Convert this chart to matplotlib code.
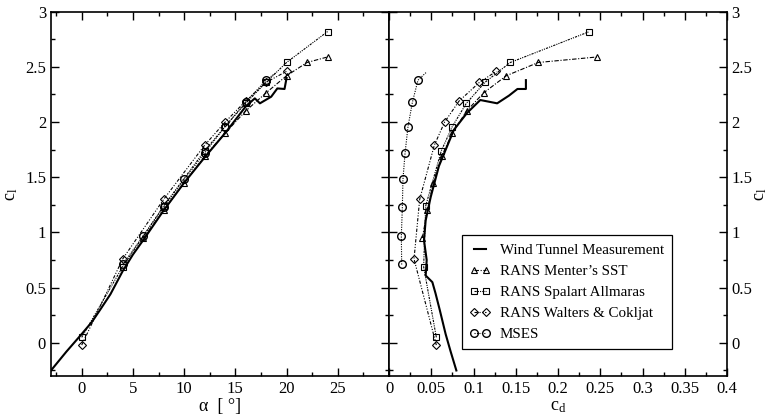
import matplotlib
matplotlib.use('Agg')

import numpy as np
import matplotlib.pyplot as plt
from matplotlib.ticker import MultipleLocator, FormatStrFormatter, FuncFormatter

plt.rcParams['font.family'] = ['Liberation Serif', 'DejaVu Serif']
plt.rcParams['mathtext.default'] = 'regular'
plt.rcParams['font.size'] = 12

# wind tunnel, lift curve
alpha_wt = [-3, -1.5, 0, 1.0, 1.8, 2.8, 4, 5, 6, 8, 10, 12, 14, 16, 16.9, 17.4, 18.5, 19.1, 19.8, 20.0]
cl_wt = [-0.25, -0.08, 0.08, 0.19, 0.30, 0.44, 0.65, 0.80, 0.93, 1.20, 1.45, 1.68, 1.90, 2.14, 2.215, 2.17, 2.23, 2.305, 2.30, 2.40]

# wind tunnel, drag polar
cd_wt_polar = [0.0797, 0.073, 0.067, 0.060, 0.055, 0.0513, 0.0434, 0.0446, 0.0414, 0.0434, 0.0493, 0.059, 0.0768, 0.092, 0.108, 0.128, 0.142, 0.152, 0.162, 0.162]
cl_wt_polar = [-0.25, -0.08, 0.08, 0.30, 0.45, 0.55, 0.61, 0.75, 0.93, 1.11, 1.32, 1.60, 1.93, 2.08, 2.20, 2.17, 2.24, 2.30, 2.30, 2.38]

# RANS Menter's SST
alpha_sst = [6, 8, 10, 12, 14, 16, 18, 20, 22, 24]
cl_sst = [0.95, 1.20, 1.45, 1.69, 1.90, 2.10, 2.265, 2.42, 2.54, 2.59]
cd_sst = [0.0394, 0.0454, 0.0524, 0.0623, 0.0749, 0.0918, 0.112, 0.1388, 0.1766, 0.2463]

# RANS Spalart Allmaras
alpha_sa = [0, 4, 8, 12, 14, 16, 18, 20, 24]
cl_sa = [0.05, 0.69, 1.24, 1.74, 1.96, 2.17, 2.36, 2.54, 2.82]
cd_sa = [0.056, 0.0410, 0.0434, 0.0619, 0.0749, 0.0915, 0.1135, 0.1435, 0.2372]

# RANS Walters & Cokljat
alpha_wc = [0, 4, 8, 12, 14, 16, 18, 20]
cl_wc = [-0.02, 0.76, 1.30, 1.79, 2.00, 2.19, 2.36, 2.46]
cd_wc = [0.056, 0.0296, 0.0363, 0.0536, 0.0658, 0.0828, 0.107, 0.127]

# MSES (last point is the unconverged tail, no marker)
alpha_mses = [4, 6, 8, 10, 12, 14, 16, 18, 19]
cl_mses = [0.71, 0.97, 1.23, 1.48, 1.72, 1.96, 2.18, 2.38, 2.45]
cd_mses = [0.015, 0.0146, 0.0158, 0.0165, 0.019, 0.0225, 0.0277, 0.0343, 0.044]

labels = ['Wind Tunnel Measurement', "RANS Menter\u2019s SST", 'RANS Spalart Allmaras',
          'RANS Walters & Cokljat', 'MSES']

mk = dict(color='k', mfc='none', mec='k', lw=0.8)
st_sst = dict(marker='^', ms=5, mew=0.8, dashes=(4, 1.5, 1, 1.5), **mk)
st_sa = dict(marker='s', ms=4.5, mew=0.8, dashes=(2, 1, 1, 1, 1, 1), **mk)
st_wc = dict(marker='D', ms=3.8, mew=0.8, dashes=(3, 1.5, 1, 1.5, 1, 1.5), **mk)
st_ms = dict(marker='o', ms=5.5, mew=1.0, dashes=(1, 1.2), markevery=list(range(8)), **mk)

fig = plt.figure(figsize=(7.7, 4.18), dpi=100)
ax1 = fig.add_axes([0.0662, 0.1005, 0.439, 0.8715])
ax2 = fig.add_axes([0.5052, 0.1005, 0.439, 0.8715])

ax1.plot(alpha_wt, cl_wt, color='k', lw=1.5)
ax1.plot(alpha_sst, cl_sst, **st_sst)
ax1.plot(alpha_sa, cl_sa, **st_sa)
ax1.plot(alpha_wc, cl_wc, **st_wc)
ax1.plot(alpha_mses, cl_mses, **st_ms)

h0, = ax2.plot(cd_wt_polar, cl_wt_polar, color='k', lw=1.5)
h1, = ax2.plot(cd_sst, cl_sst, **st_sst)
h2, = ax2.plot(cd_sa, cl_sa, **st_sa)
h3, = ax2.plot(cd_wc, cl_wc, **st_wc)
h4, = ax2.plot(cd_mses, cl_mses, **st_ms)

ax1.set_xlim(-3, 30)
ax2.set_xlim(0, 0.4)
for ax in (ax1, ax2):
    ax.set_ylim(-0.3, 3)
    ax.yaxis.set_major_locator(MultipleLocator(0.5))
    ax.yaxis.set_minor_locator(MultipleLocator(0.25))
    ax.yaxis.set_major_formatter(FormatStrFormatter('%g'))
    ax.tick_params(which='both', direction='in', top=True, right=True, width=1.0, labelsize=12)
    ax.tick_params(which='major', length=6)
    ax.tick_params(which='minor', length=3)
    for s in ax.spines.values():
        s.set_linewidth(1.2)

ax1.xaxis.set_major_locator(MultipleLocator(5))
ax1.xaxis.set_minor_locator(MultipleLocator(2.5))
ax1.xaxis.set_major_formatter(FuncFormatter(lambda v, p: '%g' % v if v < 29 else ''))
ax1.set_xlabel('\u03b1  [ \u00b0]', fontsize=13, labelpad=1)
ax1.set_ylabel('$c_l$', fontsize=13, labelpad=4)

ax2.xaxis.set_major_locator(MultipleLocator(0.05))
ax2.xaxis.set_minor_locator(MultipleLocator(0.025))
ax2.xaxis.set_major_formatter(FormatStrFormatter('%g'))
ax2.tick_params(axis='y', labelleft=False, labelright=True, pad=3)
ax2.yaxis.set_label_position('right')
ax2.set_xlabel('$c_d$', fontsize=13, labelpad=1)
ax2.set_ylabel('$c_l$', fontsize=13, labelpad=0, rotation=90)

leg = ax2.legend([h0, h1, h2, h3, h4], labels, loc='lower left', bbox_to_anchor=(0.215, 0.074),
                 borderaxespad=0, fancybox=False, edgecolor='k', framealpha=1,
                 numpoints=2, handlelength=1.4, fontsize=10.8, labelspacing=0.5,
                 handletextpad=0.6, borderpad=0.55)
leg.get_frame().set_linewidth(0.9)

fig.savefig('out.png', dpi=100)
